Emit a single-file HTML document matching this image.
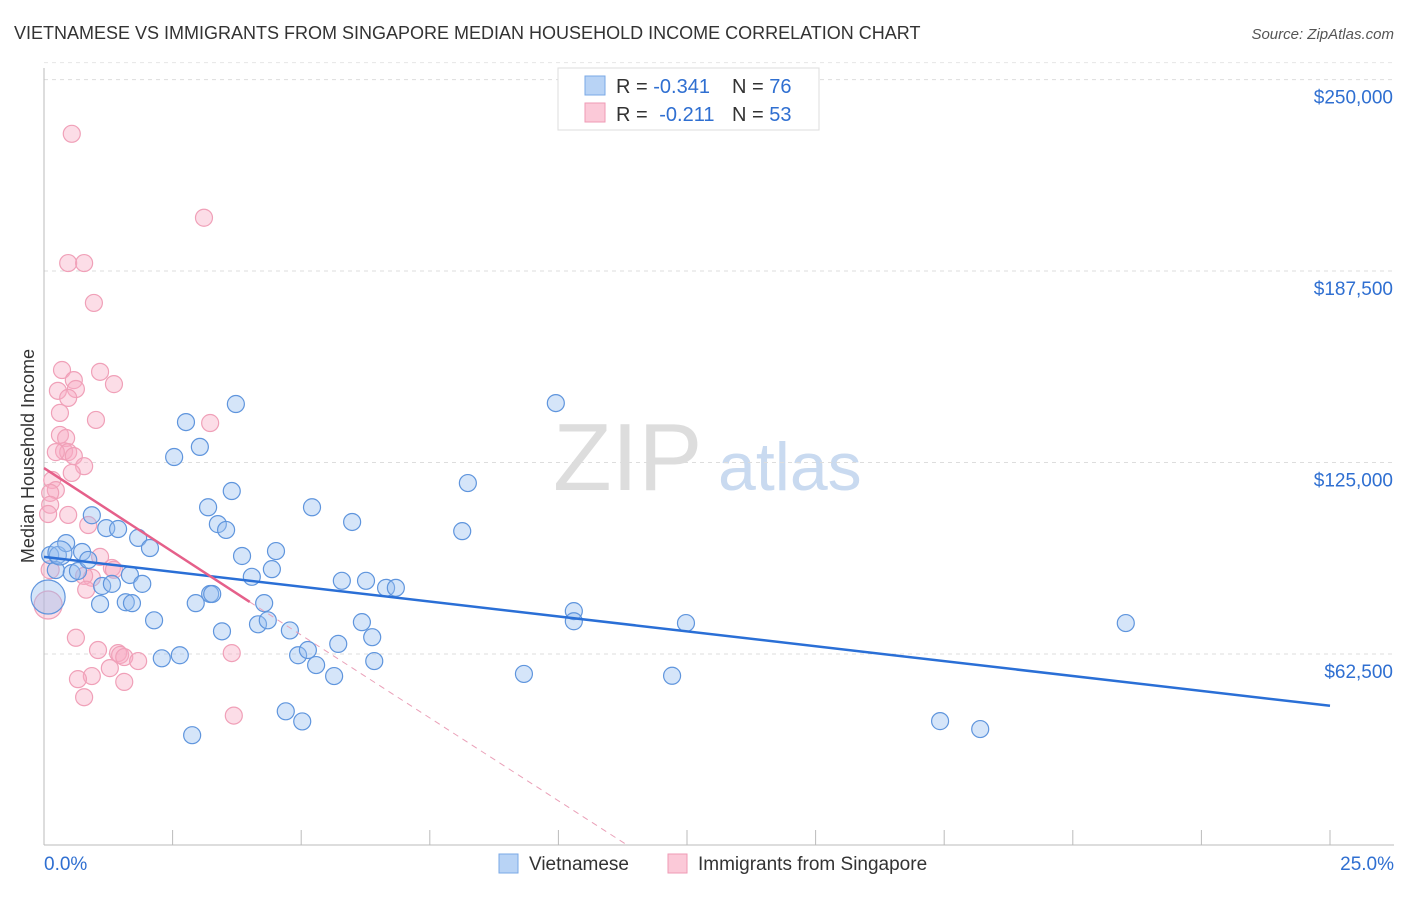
<!DOCTYPE html>
<html><head><meta charset="utf-8"><style>
body{margin:0;background:#fff;font-family:"Liberation Sans",sans-serif;}
svg text{font-family:"Liberation Sans",sans-serif;}
</style></head><body>
<svg id="c" width="1406" height="892">
<text x="14" y="39" font-size="18" fill="#333">VIETNAMESE VS IMMIGRANTS FROM SINGAPORE MEDIAN HOUSEHOLD INCOME CORRELATION CHART</text>
<text x="1394" y="39" font-size="15" fill="#555" font-style="italic" text-anchor="end">Source: ZipAtlas.com</text>
<text x="34" y="456" font-size="18" fill="#333" text-anchor="middle" transform="rotate(-90 34 456)">Median Household Income</text>
<text x="553" y="490" font-size="96" fill="#ddd" font-family="Liberation Serif">ZIP</text>
<text x="718" y="490" font-size="68" fill="#c9daf0">atlas</text>
<g id="grid"></g><g id="pts"></g><g id="trend"></g>
<g>
<rect x="558" y="68" width="261" height="62" fill="#fff" stroke="#ddd"/>
<rect x="585" y="76" width="20" height="19" fill="#b8d3f5" stroke="#7aa8e6"/>
<rect x="585" y="103" width="20" height="19" fill="#fbc9d8" stroke="#ef9ab5"/>
<text x="616" y="93" font-size="20" fill="#333">R = <tspan fill="#2f6fd1">-0.341</tspan><tspan x="732">N = </tspan><tspan fill="#2f6fd1">76</tspan></text>
<text x="616" y="121" font-size="20" fill="#333">R = <tspan fill="#2f6fd1" dx="6">-0.211</tspan><tspan x="732">N = </tspan><tspan fill="#2f6fd1">53</tspan></text>
</g>
<g>
<rect x="499" y="854" width="19" height="19" fill="#b8d3f5" stroke="#7aa8e6"/>
<text x="529" y="870" font-size="19" fill="#333">Vietnamese</text>
<rect x="668" y="854" width="19" height="19" fill="#fbc9d8" stroke="#ef9ab5"/>
<text x="698" y="870" font-size="19" fill="#333">Immigrants from Singapore</text>
</g>
</svg>
<script>
const yTicks=[62500,125000,187500,250000];
const yTickLabels=["$62,500","$125,000","$187,500","$250,000"];
const xEndLabels=["0.0%","25.0%"];
const blueX=[0.12,0.27,0.43,0.23,0.54,0.66,0.74,0.86,0.93,1.09,1.13,1.21,1.32,1.44,1.59,1.67,1.71,1.83,1.91,2.06,2.14,2.29,2.53,2.64,2.76,2.88,2.95,3.03,3.19,3.23,3.27,3.38,3.46,3.54,3.65,3.73,3.85,4.04,4.16,4.28,4.35,4.43,4.51,4.70,4.78,4.94,5.02,5.13,5.21,5.29,5.64,5.72,5.79,5.99,6.18,6.26,6.38,6.42,6.65,6.84,8.13,8.24,9.33,9.95,10.30,10.30,12.21,12.48,17.42,18.20,21.03,0.08,0.31];
const blueY=[94.8,94.8,98.7,89.9,88.9,89.6,95.8,93.2,107.8,78.8,84.7,103.6,85.4,103.3,79.4,88.3,79.1,100.4,85.4,97.1,73.5,61.1,126.8,62.1,138.2,36.0,79.1,130.1,110.4,82.1,82.1,104.9,69.9,103.0,115.7,144.1,94.5,87.7,72.2,79.1,73.5,90.2,96.1,43.8,70.2,62.1,40.5,63.8,110.4,58.9,55.3,65.8,86.4,105.6,72.9,86.4,68.0,60.2,84.1,84.1,102.6,118.3,56.0,144.4,76.5,73.2,55.4,72.6,40.6,38.0,72.6,81.1,95.5];
const pinkX=[0.54,3.11,0.47,0.78,0.97,0.35,1.09,1.36,0.58,0.27,0.62,0.47,0.31,1.01,3.23,0.31,0.43,0.39,0.47,0.23,0.58,0.78,0.54,0.16,0.23,0.12,0.12,0.47,0.08,0.86,1.09,1.32,0.93,0.78,1.36,0.82,0.62,1.05,1.44,1.48,1.56,1.28,1.83,0.93,0.66,1.56,0.78,3.65,3.69,0.08,0.12];
const pinkY=[232.3,204.9,190.1,190.1,177.1,155.2,154.6,150.6,151.9,148.4,149.0,146.1,141.2,138.9,137.9,134.0,133.0,128.7,128.4,128.4,127.1,123.8,121.6,119.3,116.0,115.1,111.2,107.9,108.2,104.6,94.2,90.6,87.4,88.0,90.0,83.5,67.8,63.8,62.8,62.2,61.5,57.9,60.2,55.3,54.3,53.4,48.4,62.8,42.4,78.5,90.0];
const blueTrend=[[0,94.2],[25,45.6]];
const pinkTrend=[[0,123.2],[4.0,79.5]];
const pinkDash=[[4.0,79.5],[11.35,0]];
const NS="http://www.w3.org/2000/svg";
const X=p=>44+p*51.44, Y=v=>845.5-v/326.4;
function mk(t,a,par){const e=document.createElementNS(NS,t);for(const k in a)e.setAttribute(k,a[k]);par.appendChild(e);return e;}
const grid=document.getElementById('grid');
yTicks.forEach((v,i)=>{
 const l=mk('line',{x1:44,x2:1394,y1:Y(v),y2:Y(v),stroke:'#ddd','stroke-dasharray':'4 4'},grid);
 
 
 const t=mk('text',{x:1393,y:Y(v)+24,'font-size':19,fill:'#2f6fd1','text-anchor':'end'},grid);
 t.textContent=yTickLabels[i];
 
 
});
mk('line',{x1:44,x2:1394,y1:Y(250000)-17,y2:Y(250000)-17,stroke:'#e6e6e6','stroke-dasharray':'4 4'},grid);
mk('line',{x1:44,x2:44,y1:68,y2:845,stroke:'#bbb'},grid);
mk('line',{x1:44,x2:1394,y1:845,y2:845,stroke:'#bbb'},grid);
for(let i=1;i<=10;i++){const tk=mk('line',{x1:X(i*2.5),x2:X(i*2.5),y1:830,y2:845,stroke:'#bbb'},grid);
 
 }
const t0=mk('text',{x:44,y:870,'font-size':19,fill:'#2f6fd1'},grid);t0.textContent=xEndLabels[0];


const t1=mk('text',{x:1394,y:870,'font-size':19,fill:'#2f6fd1','text-anchor':'end'},grid);t1.textContent=xEndLabels[1];


const pts=document.getElementById('pts');
pinkX.forEach((x,i)=>{const c=mk('circle',{cx:X(x),cy:Y(pinkY[i]*1000),r:(i>=49?(i==49?14:9):8.5),fill:'rgba(248,170,195,0.4)',stroke:'#f0a0b8','stroke-width':1.2},pts);
 
 });
blueX.forEach((x,i)=>{const c=mk('circle',{cx:X(x),cy:Y(blueY[i]*1000),r:(i==71?17:(i==72?12:8.5)),fill:'rgba(150,190,240,0.4)',stroke:'#5f95dd','stroke-width':1.2},pts);
 
 });
const tr=document.getElementById('trend');
const bl=mk('line',{x1:X(blueTrend[0][0]),y1:Y(blueTrend[0][1]*1000),x2:X(blueTrend[1][0]),y2:Y(blueTrend[1][1]*1000),stroke:'#2a6fd6','stroke-width':2.5},tr);


const pl=mk('line',{x1:X(pinkTrend[0][0]),y1:Y(pinkTrend[0][1]*1000),x2:X(pinkTrend[1][0]),y2:Y(pinkTrend[1][1]*1000),stroke:'#e5608a','stroke-width':2.5},tr);


const pd=mk('line',{x1:X(pinkDash[0][0]),y1:Y(pinkDash[0][1]*1000),x2:X(pinkDash[1][0]),y2:Y(pinkDash[1][1]*1000),stroke:'#eaa0b8','stroke-width':1,'stroke-dasharray':'6 5'},tr);


</script>
</body></html>
